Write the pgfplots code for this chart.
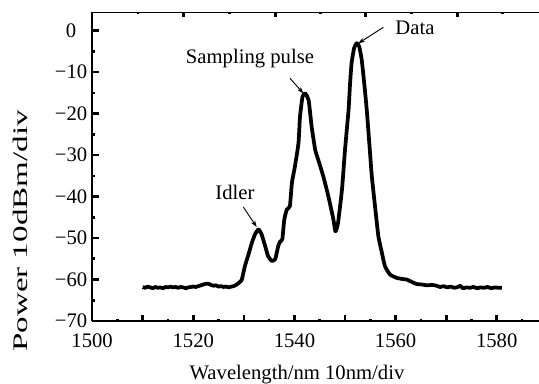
\documentclass[border=0pt]{standalone}
\usepackage{fontspec}
\setmainfont{Liberation Serif}
\usepackage{graphicx}
\usepackage{pgfplots}
\pgfplotsset{compat=1.18}
\usetikzlibrary{arrows.meta}
\pgfplotstableread{
x y
1510.0 -61.8
1510.5 -62.0
1511.0 -61.7
1511.5 -61.9
1512.0 -62.1
1512.5 -61.8
1513.0 -62.0
1513.5 -61.9
1514.0 -62.1
1514.5 -61.8
1515.0 -61.9
1515.5 -61.7
1516.0 -61.9
1516.5 -61.8
1517.0 -62.0
1517.5 -61.8
1518.0 -61.9
1518.5 -62.1
1519.0 -61.9
1519.5 -61.8
1520.0 -61.7
1520.5 -61.8
1521.0 -61.6
1521.5 -61.4
1522.0 -61.2
1522.5 -61.0
1523.0 -61.0
1523.5 -61.3
1524.0 -61.5
1524.5 -61.4
1525.0 -61.7
1525.5 -61.6
1526.0 -61.8
1526.5 -61.7
1527.0 -61.9
1527.5 -61.7
1528.0 -61.6
1528.6 -61.2
1529.2 -60.6
1529.6 -60.0
1530.2 -56.8
1530.9 -54.0
1531.6 -51.1
1532.2 -49.1
1532.9 -47.9
1533.5 -49.1
1534.2 -51.9
1534.8 -54.4
1535.5 -55.5
1536.2 -55.1
1536.8 -51.9
1537.2 -50.8
1537.6 -50.3
1538.0 -45.5
1538.5 -43.1
1539.1 -42.3
1539.5 -36.7
1540.1 -32.7
1540.8 -27.1
1541.1 -20.7
1541.6 -15.9
1542.1 -15.1
1542.8 -16.7
1543.4 -23.1
1544.1 -28.7
1544.7 -31.1
1545.7 -35.1
1546.7 -39.9
1547.7 -45.5
1548.1 -48.4
1548.6 -46.5
1549.4 -38.3
1550.0 -28.7
1550.7 -19.1
1551.0 -12.7
1551.3 -7.8
1551.8 -4.2
1552.3 -3.0
1552.8 -3.8
1553.3 -7.0
1553.8 -12.7
1554.3 -19.1
1554.8 -27.1
1555.3 -35.1
1556.0 -43.1
1556.6 -49.6
1557.3 -53.6
1557.9 -56.8
1558.9 -58.8
1560.2 -59.6
1561.5 -59.9
1562.2 -60.0
1562.9 -60.4
1563.6 -60.8
1564.2 -61.1
1565.2 -61.2
1566.2 -61.4
1567.2 -61.3
1568.1 -61.5
1568.8 -61.8
1569.5 -61.6
1570.2 -61.9
1570.9 -61.7
1571.6 -62.0
1572.3 -61.8
1572.8 -61.5
1573.3 -62.1
1574.0 -61.9
1574.7 -62.0
1575.4 -61.8
1576.1 -62.1
1576.8 -61.9
1577.5 -62.0
1578.2 -61.8
1578.9 -62.1
1579.6 -61.9
1580.3 -62.0
1581.0 -62.0
}\spectrum
\begin{document}
\begin{tikzpicture}[font=\fontsize{15.5}{18}\selectfont]
\useasboundingbox (0,0) rectangle (404.25pt,288pt);
\begin{axis}[
  at={(69.1pt,47.25pt)}, anchor=south west,
  scale only axis, width=335.2pt, height=231.5pt,
  xmin=1500, xmax=1588.37, ymin=-70, ymax=4.43,
  axis x line*=bottom, axis y line*=left,
  axis line style={line width=1pt},
  tick align=inside,
  tick label style={font=\fontsize{15.5}{18}\selectfont},
  xtick={1500,1510,...,1580},
  xticklabels={1500,,1520,,1540,,1560,,1580},
  minor xtick={1505,1515,...,1585},
  ytick={-70,-60,...,0},
  yticklabels={−70,−60,−50,−40,−30,−20,−10,0},
  minor ytick={-65,-55,...,-5},
  major tick length=4.8pt, minor tick length=1.8pt,
  every tick/.style={black, line width=2pt},
  xticklabel style={yshift=-6pt},
  yticklabel style={anchor=center, xshift=-15.75pt},
]
\addplot[black, line width=2.8pt, line join=round, smooth, tension=0.3] table[x=x,y=y] {\spectrum};
\end{axis}
\begin{axis}[
  at={(69.1pt,47.25pt)}, anchor=south west,
  scale only axis, width=335.2pt, height=231.5pt,
  xmin=1500, xmax=1588.37, ymin=-70, ymax=4.43,
  axis x line*=top, axis y line=none,
  axis line style={line width=1pt},
  tick align=inside,
  xtick={1518.0,1536.2,1554.1,1572.2},
  minor xtick={1509.1,1527.1,1545.2,1563.1,1581.1},
  xticklabels={},
  major tick length=3.2pt, minor tick length=1.5pt,
  every tick/.style={black, line width=2pt},
]
\end{axis}
\node[anchor=base] at (222.75pt,3.5pt) {Wavelength/nm 10nm/div};
\node[rotate=90, anchor=base] at (20.25pt,114.75pt) {\scalebox{1.6}[1]{Power 10dBm/div}};
\node[anchor=base] at (311.25pt,261.75pt) {Data};
\node[anchor=base] at (187.5pt,240pt) {Sampling pulse};
\node[anchor=base] at (176.25pt,138pt) {Idler};
\draw[line width=0.7pt, -{Stealth[length=5pt,width=3.5pt]}] (287.5pt,267.5pt) -- (268.75pt,255.5pt);
\draw[line width=0.7pt, -{Stealth[length=5pt,width=3.5pt]}] (217.5pt,229.25pt) -- (227.5pt,218pt);
\draw[line width=0.7pt, -{Stealth[length=5pt,width=3.5pt]}] (182.5pt,132.75pt) -- (192.5pt,117.75pt);
\end{tikzpicture}
\end{document}
